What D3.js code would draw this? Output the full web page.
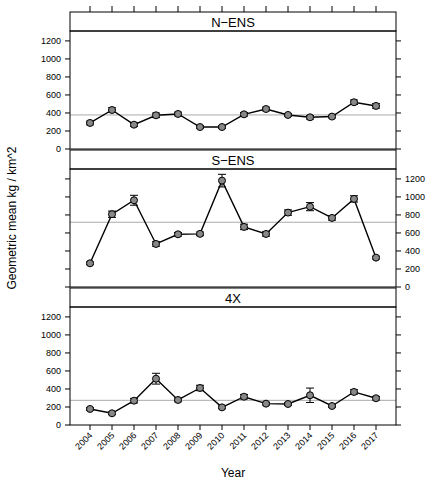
<!DOCTYPE html>
<html><head><meta charset="utf-8">
<script src="https://cdn.jsdelivr.net/npm/d3@7"></script>
<style>body{margin:0;background:#fff}text{font-family:"Liberation Sans",Arial,sans-serif}</style>
</head><body><div id="chart"></div>
<script>
const years = [2004,2005,2006,2007,2008,2009,2010,2011,2012,2013,2014,2015,2016,2017];
const panelNames = ["N\u2212ENS", "S\u2212ENS", "4X"];
const nensMean = [289,433,270,374,389,244,244,385,444,378,352,360,519,478];
const nensErr  = [20,25,20,25,20,15,15,20,20,15,20,15,25,25];
const sensMean = [263,808,963,478,585,590,1181,667,589,826,892,767,978,326];
const sensErr  = [15,35,55,25,20,20,70,30,25,30,45,25,35,15];
const fxMean = [178,130,270,514,278,411,196,314,237,233,330,211,367,297];
const fxErr  = [15,15,25,60,20,30,15,25,15,15,80,15,25,20];
const refLines = [378,719,274];
const yTicks = [0,200,400,600,800,1000,1200];

const series = [
  {mean: nensMean, err: nensErr},
  {mean: sensMean, err: sensErr},
  {mean: fxMean, err: fxErr}
];

const W = 435, H = 488;
const left = 70, right = 396;
const tops = [12, 150, 288];   // strip tops
const stripH = 19, plotH = 118;

const svg = d3.select("#chart").append("svg").attr("width", W).attr("height", H);
const x = d3.scalePoint().domain(years).range([90, 376]);

series.forEach((s, i) => {
  const top = tops[i];
  const pTop = top + stripH, pBot = pTop + plotH;
  const y = d3.scaleLinear().domain([0, 1310]).range([pBot, pTop]);
  const g = svg.append("g");

  // reference line
  g.append("line").attr("x1", left).attr("x2", right)
    .attr("y1", y(refLines[i])).attr("y2", y(refLines[i]))
    .attr("stroke", "#aaa").attr("stroke-width", 1);

  // line
  g.append("path").datum(years.map((yr, k) => [yr, s.mean[k]]))
    .attr("fill", "none").attr("stroke", "#000").attr("stroke-width", 1.4)
    .attr("d", d3.line().x(d => x(d[0])).y(d => y(d[1])));

  // error bars
  years.forEach((yr, k) => {
    const cx = x(yr), hi = y(s.mean[k] + s.err[k]), lo = y(s.mean[k] - s.err[k]);
    g.append("line").attr("x1", cx).attr("x2", cx).attr("y1", hi).attr("y2", lo).attr("stroke", "#000");
    [hi, lo].forEach(v => g.append("line").attr("x1", cx - 4).attr("x2", cx + 4)
      .attr("y1", v).attr("y2", v).attr("stroke", "#000"));
  });

  g.selectAll("circle").data(years).join("circle")
    .attr("cx", d => x(d)).attr("cy", (d, k) => y(s.mean[k])).attr("r", 3.5)
    .attr("fill", "#888").attr("stroke", "#000").attr("stroke-width", 1);

  // strip
  g.append("rect").attr("x", left).attr("y", top).attr("width", right - left).attr("height", stripH)
    .attr("fill", "#fff").attr("stroke", "#000");
  g.append("text").attr("x", (left + right) / 2).attr("y", top + 15).attr("text-anchor", "middle")
    .attr("font-size", 13).text(panelNames[i]);
  // panel border
  g.append("rect").attr("x", left).attr("y", pTop).attr("width", right - left).attr("height", plotH)
    .attr("fill", "none").attr("stroke", "#000");

  // y ticks both sides
  yTicks.forEach(t => {
    g.append("line").attr("x1", left - 5).attr("x2", left).attr("y1", y(t)).attr("y2", y(t)).attr("stroke", "#000");
    g.append("line").attr("x1", right).attr("x2", right + 5).attr("y1", y(t)).attr("y2", y(t)).attr("stroke", "#000");
  });
  const onRight = i === 1;
  g.selectAll("text.tl").data(yTicks).join("text").attr("class", "tl")
    .attr("x", onRight ? right + 9 : left - 9).attr("y", d => y(d) + 3)
    .attr("text-anchor", onRight ? "start" : "end").attr("font-size", 9).text(d => d);
});

// x ticks top and bottom
const bottomY = tops[2] + stripH + plotH;
years.forEach(yr => {
  svg.append("line").attr("x1", x(yr)).attr("x2", x(yr)).attr("y1", 12).attr("y2", 6).attr("stroke", "#000");
  svg.append("line").attr("x1", x(yr)).attr("x2", x(yr)).attr("y1", bottomY).attr("y2", bottomY + 5).attr("stroke", "#000");
  svg.append("text").attr("font-size", 9).attr("text-anchor", "end")
    .attr("transform", `translate(${x(yr) + 3},${bottomY + 11}) rotate(-45)`).text(yr);
});

svg.append("text").attr("x", 233).attr("y", 477).attr("text-anchor", "middle").attr("font-size", 12).text("Year");
svg.append("text").attr("transform", "translate(16,218) rotate(-90)").attr("text-anchor", "middle")
  .attr("font-size", 12).text("Geometric mean kg / km^2");
</script></body></html>
